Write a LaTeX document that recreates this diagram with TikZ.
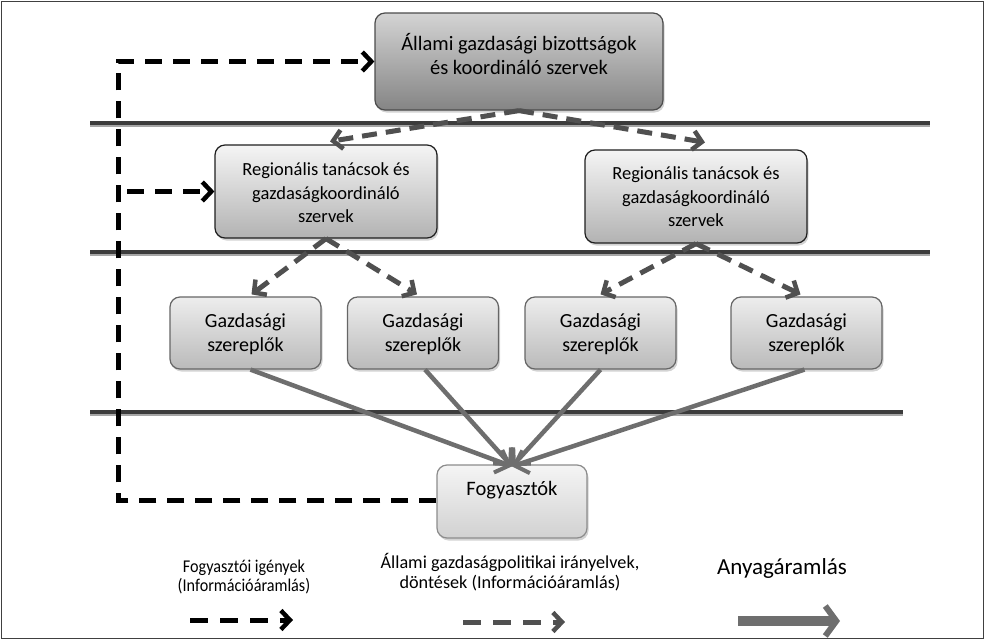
\documentclass[tikz,border=0pt]{standalone}
\usepackage{fontspec}
\setmainfont{Carlito}
\newfontfamily\narrowfont[FakeStretch=0.9]{Carlito}
\usetikzlibrary{arrows.meta,shadows}
\definecolor{hline}{HTML}{3C3C3C}
\definecolor{gdash}{HTML}{505050}
\definecolor{solidg}{HTML}{6E6E6E}
\begin{document}
\begin{tikzpicture}[x=1pt,y=-1pt,
  box/.style={line width=1.2pt, rounded corners=10pt, inner sep=0pt,
    drop shadow={shadow xshift=1.5pt, shadow yshift=-2.5pt, opacity=0.35}},
  topbox/.style={box, draw=black!70, top color=black!17, bottom color=black!48},
  regbox/.style={box, draw=black!88, top color=black!4, bottom color=black!30},
  gazbox/.style={box, draw=black!60, top color=black!7, bottom color=black!27},
  fogbox/.style={box, draw=black!45, top color=black!4, bottom color=black!18},
  boxtext/.style={align=center, font=\fontsize{18.5}{23.5}\selectfont, inner sep=0pt},
  sepline/.style={draw=hline, line width=4pt},
  sepshadow/.style={draw=black!35, line width=2pt},
  blkdash/.style={draw=black, line width=5pt, dash pattern=on 17pt off 11pt,
    -{Straight Barb[length=9pt,width=19pt,line width=4.5pt]}},
  graydash/.style={draw=gdash, line width=5pt, dash pattern=on 15pt off 9pt,
    -{Straight Barb[length=9pt,width=19pt,line width=4.5pt]}},
  solidarr/.style={draw=solidg, line width=4.5pt,
    -{Straight Barb[length=12pt,width=24pt,line width=4pt]}},
]
\useasboundingbox (0,0) rectangle (985,640);
\draw[black!75, line width=1pt] (1.5,1.5) rectangle (983.5,638.5);

% separator lines
\draw[sepshadow] (90,126) -- (930,126);
\draw[sepline] (90,123) -- (930,123);
\draw[sepshadow] (90,255) -- (930,255);
\draw[sepline] (90,252) -- (930,252);
\draw[sepshadow] (90,415) -- (903,415);
\draw[sepline] (90,412) -- (903,412);

% boxes
\node[topbox, minimum width=288pt, minimum height=97pt] (top) at (519,61.5) {};
\node[boxtext, font=\fontsize{20.5}{23.5}\selectfont] (toptext) at (519,54) {Állami gazdasági bizottságok\\és koordináló szervek};

\node[regbox, minimum width=222pt, minimum height=93pt] (rl) at (326,191.5) {};
\node[boxtext] (rltext) at (326,193) {Regionális tanácsok és\\gazdaságkoordináló\\szervek};
\node[regbox, minimum width=222pt, minimum height=93pt] (rr) at (696,196.5) {};
\node[boxtext] (rrtext) at (696,197) {Regionális tanácsok és\\gazdaságkoordináló\\szervek};

\foreach \n/\x in {g1/245.5, g2/423, g3/600.5, g4/806.5}{
  \node[gazbox, minimum width=151pt, minimum height=72pt] (\n) at (\x,333) {};
  \node[boxtext, font=\fontsize{20}{23.5}\selectfont] (\n text) at (\x,334) {Gazdasági\\szereplők};
}

\node[fogbox, minimum width=150pt, minimum height=73pt] (fogy) at (512,501.5) {};
\node[boxtext, font=\fontsize{20.5}{23.5}\selectfont] (fogytext) at (512,490) {Fogyasztók};

% gray dashed information arrows
\draw[graydash] (top.south) -- ([shift={(4,-3)}]rl.north);
\draw[graydash] (top.south) -- ([shift={(9,-7)}]rr.north);
\draw[graydash] (rl.south) -- ([shift={(6,-2)}]g1.north);
\draw[graydash] (rl.south) -- ([shift={(-6,-2)}]g2.north);
\draw[graydash] (rr.south) -- ([shift={(0,-2)}]g3.north);
\draw[graydash] (rr.south) -- ([shift={(-6,-2)}]g4.north);

% solid material arrows
\draw[solidarr] ([xshift=5pt]g1.south) -- ([yshift=-2pt]fogy.north);
\draw[solidarr] ([xshift=2pt]g2.south) -- ([yshift=-2pt]fogy.north);
\draw[solidarr] ([xshift=0pt]g3.south) -- ([yshift=-2pt]fogy.north);
\draw[solidarr] ([xshift=-2pt]g4.south) -- ([yshift=-2pt]fogy.north);

% black dashed feedback path
\coordinate (cb) at (118,500);
\coordinate (ct) at (118,61.5);
\coordinate (cm) at (127,191.5);
\draw[blkdash] (fogy.west |- cb) -- (cb) -- (ct) -- (top.west);
\draw[blkdash] (cm) -- (rl.west);

% legend
\node[align=center, font=\narrowfont\fontsize{18}{19.5}\selectfont, inner sep=0pt] (leg1) at (244,577) {Fogyasztói igények\\(Információáramlás)};
\node[align=center, font=\fontsize{18.2}{20.5}\selectfont, inner sep=0pt] (leg2) at (510,572) {Állami gazdaságpolitikai irányelvek,\\döntések (Információáramlás)};
\node[font=\fontsize{23}{25}\selectfont, inner sep=0pt] (leg3) at (782,568) {Anyagáramlás};

\coordinate (l1a) at (190,620);
\coordinate (l1b) at (293,620);
\draw[blkdash, dash pattern=on 18pt off 12pt] (l1a) -- (l1b);
\coordinate (l2a) at (463,622);
\coordinate (l2b) at (565,622);
\draw[graydash, dash pattern=on 18pt off 12pt] (l2a) -- (l2b);
\coordinate (l3a) at (738,621);
\coordinate (l3b) at (840,621);
\draw[draw=solidg, line width=10pt, -{Straight Barb[length=11pt,width=30pt,line width=6pt]}] (l3a) -- (l3b);
\end{tikzpicture}
\end{document}
